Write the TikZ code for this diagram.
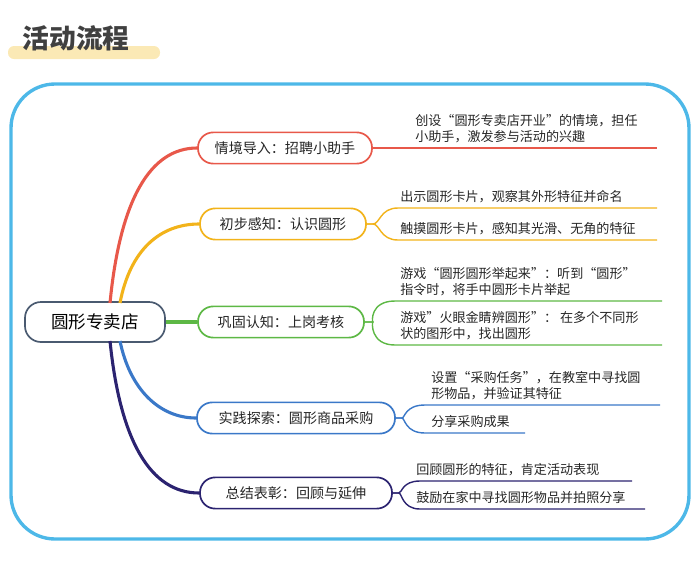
\documentclass[tikz,border=0pt]{standalone}
\usepackage{fontspec}
\setmainfont{Noto Sans CJK SC}
\usetikzlibrary{positioning}
\definecolor{framec}{HTML}{4DB8E8}
\definecolor{hlc}{HTML}{FBE9B5}
\definecolor{rootc}{HTML}{4A5A70}
\definecolor{ca}{HTML}{E8584A}
\definecolor{cb}{HTML}{F2B31A}
\definecolor{cc}{HTML}{5DB845}
\definecolor{cd}{HTML}{3A78C8}
\definecolor{ce}{HTML}{2B2370}
\tikzset{
  branch/.style={draw=#1, line width=1.2pt, rounded corners=0.38cm, fill=white,
    minimum height=0.78cm, inner xsep=0.35cm, font=\fontsize{10}{12}\selectfont, text=black!85},
  leaf/.style={anchor=south west, inner sep=0pt, align=left,
    font=\fontsize{9.3}{11.4}\selectfont, text=black!85},
  stem/.style={line width=2.2pt, draw=#1},
  twig/.style={line width=1pt, draw=#1},
}
\begin{document}
\begin{tikzpicture}[x=0.025cm, y=-0.025cm]
\useasboundingbox (0,0) rectangle (700,568);
% title
\fill[hlc, rounded corners=0.15cm] (8,46) rectangle (160,59);
\node[font=\fontsize{19}{22}\selectfont\bfseries, text=black!75] (title) at (76,38) {活动流程};
\draw[framec, line width=2.4pt, rounded corners=1.1cm] (11,84) rectangle (689,539);

% root
\node[draw=rootc, line width=1.2pt, rounded corners=0.4cm, minimum width=3.5cm,
  minimum height=1cm, font=\fontsize{12.5}{14}\selectfont] (root) at (95,322) {圆形专卖店};

% branches
\node[branch=ca, minimum width=4.35cm] (b1) at (285,148) {情境导入：招聘小助手};
\node[branch=cb, minimum width=4.15cm] (b2) at (283,224) {初步感知：认识圆形};
\node[branch=cc, minimum width=4.15cm] (b3) at (281,322) {巩固认知：上岗考核};
\node[branch=cd, minimum width=4.95cm] (b4) at (296,418) {实践探索：圆形商品采购};
\node[branch=ce, minimum width=4.8cm] (b5) at (296,493) {总结表彰：回顾与延伸};

\begin{scope}[on background layer/.style={}]
\draw[stem=ca] (110,303) .. controls (120,200) and (150,148) .. (b1.west);
\draw[stem=cb] (120,303) .. controls (130,250) and (160,224) .. (b2.west);
\draw[stem=cc] (root.east) -- (b3.west);
\draw[stem=cd] (120,341) .. controls (130,390) and (160,418) .. (b4.west);
\draw[stem=ce] (110,341) .. controls (120,440) and (150,493) .. (b5.west);
\end{scope}

% leaves
\draw[twig=ca] (b1.east) -- (657,148);
\node[leaf] (l1) at (415,143) {创设“圆形专卖店开业”的情境，担任\\小助手，激发参与活动的兴趣};

\draw[twig=cb] (b2.east) -- ++(6,0) .. controls (380,224) and (380,208) .. (398,208) -- (657,208);
\draw[twig=cb] (b2.east) -- ++(6,0) .. controls (380,224) and (380,240) .. (398,240) -- (657,240);
\node[leaf] (l2a) at (400,203) {出示圆形卡片，观察其外形特征并命名};
\node[leaf] (l2b) at (400,235) {触摸圆形卡片，感知其光滑、无角的特征};

\draw[twig=cc] (b3.east) -- ++(8,0) .. controls (372,322) and (370,301) .. (395,301) -- (662,301);
\draw[twig=cc] (b3.east) -- ++(8,0) .. controls (372,322) and (370,345) .. (395,345) -- (662,345);
\node[leaf] (l3a) at (400,296) {游戏“圆形圆形举起来”：听到“圆形”\\指令时，将手中圆形卡片举起};
\node[leaf] (l3b) at (400,340) {游戏”火眼金睛辨圆形”： 在多个不同形\\状的图形中，找出圆形};

\draw[twig=cd] (b4.east) -- ++(6,0) .. controls (405,418) and (405,405) .. (425,405) -- (660,405);
\draw[twig=cd] (b4.east) -- ++(6,0) .. controls (405,418) and (405,433) .. (425,433) -- (525,433);
\node[leaf] (l4a) at (431,400) {设置“采购任务”，在教室中寻找圆\\形物品，并验证其特征};
\node[leaf] (l4b) at (431,428) {分享采购成果};

\draw[twig=ce] (b5.east) -- ++(6,0) .. controls (402,493) and (402,481) .. (420,481) -- (632,481);
\draw[twig=ce] (b5.east) -- ++(6,0) .. controls (402,493) and (402,509) .. (420,509) -- (645,509);
\node[leaf] (l5a) at (416,476) {回顾圆形的特征，肯定活动表现};
\node[leaf] (l5b) at (416,504) {鼓励在家中寻找圆形物品并拍照分享};
\end{tikzpicture}
\end{document}
